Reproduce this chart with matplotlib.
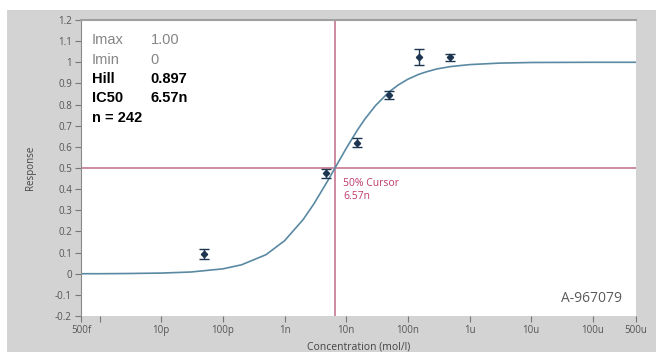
import matplotlib

matplotlib.use("Agg")
import matplotlib.pyplot as plt
from matplotlib.patches import Rectangle

# measured points (concentration in mol/l, mean response, error half-width)
conc = [5e-11, 4.7e-9, 1.5e-8, 4.9e-8, 1.5e-7, 4.8e-7]
resp = [0.095, 0.474, 0.62, 0.846, 1.025, 1.023]
err = [0.024, 0.02, 0.022, 0.018, 0.037, 0.015]

# fitted curve
fit_conc = [5e-13, 1e-12, 3e-12, 1e-11, 3e-11, 1e-10, 2e-10, 5e-10, 1e-9,
            2e-9, 3e-9, 5e-9, 7e-9, 1e-8, 1.5e-8, 2e-8, 3e-8, 5e-8, 7e-8,
            1e-7, 1.5e-7, 2e-7, 3e-7, 5e-7, 1e-6, 3e-6, 1e-5, 1e-4, 5e-4]
fit_resp = [0.0, 0.0, 0.001, 0.003, 0.008, 0.023, 0.042, 0.09, 0.156,
            0.256, 0.331, 0.439, 0.514, 0.593, 0.677, 0.731, 0.796, 0.861, 0.893,
            0.92, 0.943, 0.955, 0.969, 0.98, 0.989, 0.996, 0.999, 1.0, 1.0]

ic50 = 6.57e-9
stats_labels = ["Imax", "Imin", "Hill", "IC50", "n = 242"]
stats_values = ["1.00", "0", "0.897", "6.57n", ""]
stats_bold = [False, False, True, True, True]

x_ticks = [5e-13, 1e-11, 1e-10, 1e-9, 1e-8, 1e-7, 1e-6, 1e-5, 1e-4, 5e-4]
x_ticklabels = ["500f", "10p", "100p", "1n", "10n", "100n", "1u", "10u", "100u", "500u"]
y_ticks = [1.2, 1.1, 1.0, 0.9, 0.8, 0.7, 0.6, 0.5, 0.4, 0.3, 0.2, 0.1, 0.0, -0.1, -0.2]
y_ticklabels = ["1.2", "1.1", "1", "0.9", "0.8", "0.7", "0.6", "0.5", "0.4", "0.3",
                "0.2", "0.1", "0", "-0.1", "-0.2"]

plt.rcParams["font.family"] = ["Open Sans", "DejaVu Sans"]
stat_font = ["Liberation Sans", "DejaVu Sans"]

W, H = 656, 352
fig = plt.figure(figsize=(W / 100, H / 100), dpi=100)
fig.patch.set_facecolor("white")
fig.add_artist(Rectangle((7 / W, 0), 1 - 7 / W, (H - 10) / H,
                         transform=fig.transFigure, facecolor="#d3d3d3",
                         edgecolor="none", zorder=0))

ax = fig.add_axes([81 / W, (H - 316) / H, (636 - 81) / W, (316 - 20) / H])
ax.set_facecolor("white")
ax.set_xscale("log")
ax.set_xlim(5e-13, 5e-4)
ax.set_ylim(-0.2, 1.2)

cursor_col = "#c9819a"
ax.axhline(0.5, color=cursor_col, lw=1.3, zorder=1)
ax.axvline(ic50, color=cursor_col, lw=1.3, zorder=1)

ax.plot(fit_conc, fit_resp, color="#5a89a3", lw=1.2, zorder=2)
ax.errorbar(conc, resp, yerr=err, fmt="D", ms=3.2, color="#1d3550",
            ecolor="#1d3550", elinewidth=1.0, capsize=3.5, capthick=1.0, zorder=3)

ax.text(ic50 * 1.35, 0.455, "50% Cursor\n6.57n", color="#c03a6c", fontsize=7.5,
        va="top", ha="left", linespacing=1.25)

for i, (lab, val, b) in enumerate(zip(stats_labels, stats_values, stats_bold)):
    col = "black" if b else "#858585"
    w = "bold" if b else "normal"
    y = 1.105 - i * 0.092
    ax.text(0.02, y, lab, transform=ax.get_yaxis_transform(), color=col,
            fontsize=10.5, fontweight=w, va="center", ha="left", family=stat_font)
    if val:
        ax.text(0.125, y, val, transform=ax.get_yaxis_transform(), color=col,
                fontsize=10.5, fontweight=w, va="center", ha="left", family=stat_font)

ax.text(0.975, 0.06, "A-967079", transform=ax.transAxes, color="#5a5a5a",
        fontsize=10, ha="right", va="center")

ax.set_xticks(x_ticks)
ax.set_xticklabels(x_ticklabels)
ax.set_xticks([1e-12], minor=True)
ax.set_xticklabels([""], minor=True)
ax.set_yticks(y_ticks)
ax.set_yticklabels(y_ticklabels)
ax.tick_params(axis="both", which="both", labelsize=7, colors="#777777",
               labelcolor="#555555", length=4, width=0.8, direction="out", pad=2.5)

for side in ["right", "bottom"]:
    ax.spines[side].set_visible(False)
ax.spines["left"].set_color("#8a8a8a")
ax.spines["top"].set_color("#a0a0a0")
ax.spines["top"].set_linewidth(1.5)

ax.set_ylabel("Response", fontsize=7, color="#444444", labelpad=14)
ax.set_xlabel("Concentration (mol/l)", fontsize=7.5, color="#444444", labelpad=4)

fig.savefig("out.png", dpi=100)
